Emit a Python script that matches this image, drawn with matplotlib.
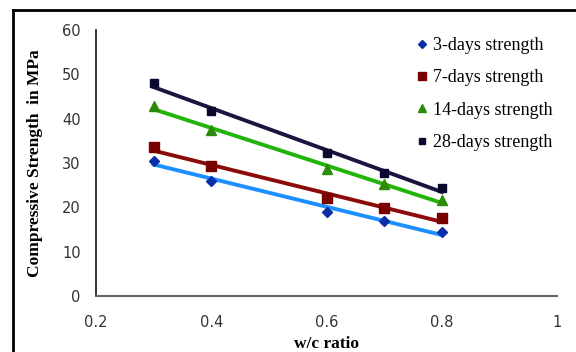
import numpy as np
import matplotlib.pyplot as plt
from matplotlib.lines import Line2D

wc_ratio = [0.3, 0.4, 0.6, 0.7, 0.8]
series_names = ["3-days strength", "7-days strength", "14-days strength", "28-days strength"]
strength_3d = [30.5, 26.0, 19.0, 17.0, 14.5]
strength_7d = [33.5, 29.3, 22.0, 19.8, 17.6]
strength_14d = [42.8, 37.5, 28.6, 25.2, 21.6]
strength_28d = [48.0, 41.7, 32.3, 27.8, 24.3]

marker_colors = ["#0a2fa8", "#7a0000", "#2e8b0a", "#0a0a30"]
trend_colors = ["#1e8fff", "#8b0a0a", "#22b40a", "#1c1440"]
markers = ["D", "s", "^", "s"]
marker_sizes = [5, 7, 7, 6]


def main():
    fig = plt.figure(figsize=(5.76, 3.52), dpi=100)
    ax = fig.add_axes([96 / 576, 56 / 352, 461 / 576, 266 / 352])

    all_series = [strength_3d, strength_7d, strength_14d, strength_28d]
    x = np.array(wc_ratio)
    for i, vals in enumerate(all_series):
        # linear trend line through each series
        k, b = np.polyfit(x, vals, 1)
        xl = np.array([x.min(), x.max()])
        ax.plot(xl, k * xl + b, color=trend_colors[i], lw=2.8, zorder=2)
        ax.plot(x, vals, ls="none", marker=markers[i], ms=marker_sizes[i],
                color=marker_colors[i], label=series_names[i], zorder=3)

    ax.set_xlim(0.2, 1.0)
    ax.set_ylim(0, 60)
    ax.set_xticks([0.2, 0.4, 0.6, 0.8, 1.0])
    ax.set_xticklabels(["0.2", "0.4", "0.6", "0.8", "1"])
    ax.set_yticks(range(0, 61, 10))
    ax.tick_params(length=0, labelsize=10.5, labelcolor="#333333")
    ax.tick_params(axis="x", pad=14)
    ax.tick_params(axis="y", pad=11)

    for s in ["top", "right"]:
        ax.spines[s].set_visible(False)
    ax.spines["left"].set_color("#111111")
    ax.spines["bottom"].set_color("#666666")
    ax.spines["left"].set_linewidth(1.2)
    ax.spines["bottom"].set_linewidth(1.5)

    ax.set_xlabel("w/c ratio", family="Liberation Serif", fontweight="bold",
                  fontsize=12.5, labelpad=4)
    ax.set_ylabel("Compressive Strength  in MPa", family="Liberation Serif",
                  fontweight="bold", fontsize=12.5, labelpad=14)

    ax.legend(loc="upper left", bbox_to_anchor=(0.66, 1.035), frameon=False,
              prop={"family": "Liberation Serif", "size": 13},
              handlelength=0.6, handletextpad=0.3, labelspacing=0.85,
              markerscale=0.75)

    # outer border
    fig.add_artist(Line2D([13 / 576, 13 / 576], [0, 1 - 10 / 352], color="black", lw=2))
    fig.add_artist(Line2D([13 / 576, 1], [1 - 10 / 352, 1 - 10 / 352], color="black", lw=2))

    fig.savefig("out.png", dpi=100)


if __name__ == "__main__":
    main()
